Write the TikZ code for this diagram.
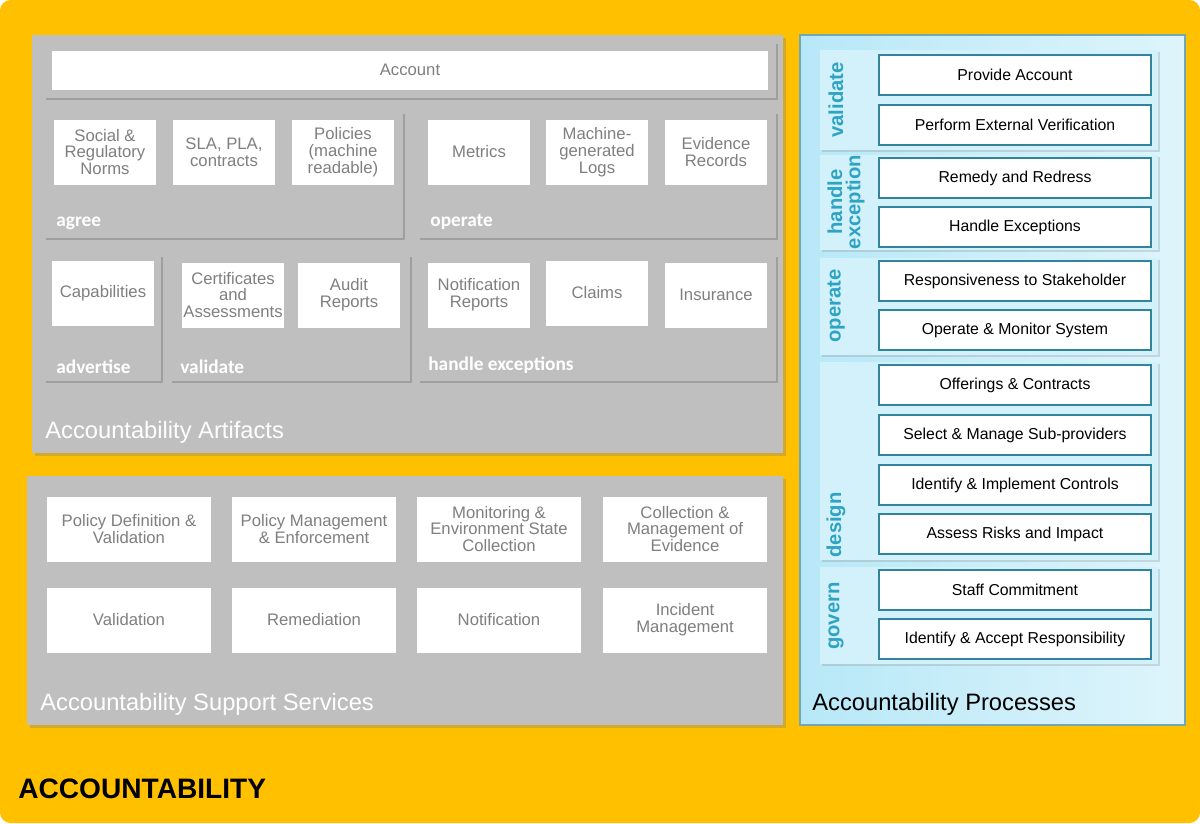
\documentclass[tikz,border=0pt]{standalone}
\usepackage{fontspec}
\setmainfont{Liberation Sans}
\newfontfamily\grpfont{Carlito}
\usetikzlibrary{positioning,shadows}
\definecolor{accorange}{HTML}{FFC000}
\definecolor{panelgrey}{HTML}{BFBFBF}
\definecolor{txtgrey}{HTML}{7F7F7F}
\definecolor{procblue}{HTML}{B7E8F7}
\definecolor{procband}{HTML}{D3F1FA}
\definecolor{procedge}{HTML}{31849B}
\definecolor{proctxt}{HTML}{2FA3C4}

\begin{document}
\begin{tikzpicture}[
			x=0.02cm, y=-0.02cm,
			panel/.style={fill=panelgrey, drop shadow={shadow xshift=1.5pt,shadow yshift=-1.5pt,opacity=0.35}},
			group/.style={fill=panelgrey, drop shadow={shadow xshift=1pt,shadow yshift=-1pt,opacity=0.5}},
			art/.style={fill=white, text=txtgrey, align=center, inner sep=1pt, font=\fontsize{9.5}{9.5}\selectfont},
			grplabel/.style={anchor=south west, text=white, font=\grpfont\bfseries\fontsize{11}{11}\selectfont, inner sep=0pt},
			paneltitle/.style={anchor=south west, inner sep=0pt, font=\fontsize{13.5}{14}\selectfont},
			proc/.style={draw=procedge, line width=1.4pt, fill=white, font=\fontsize{9}{9}\selectfont},
			band/.style={fill=procband, drop shadow={shadow xshift=1pt,shadow yshift=-1pt,opacity=0.25}},
			bandlabel/.style={rotate=90, text=proctxt, align=center, font=\bfseries\fontsize{11.5}{10.5}\selectfont}
			]

			% background
			\fill[accorange, rounded corners=6pt] (0,0) rectangle (1200,823);

			% artifacts panel
			\path[panel] (32,35) rectangle (783,453);
			\node[paneltitle, text=white] (arttitle) at (45,444) {Accountability Artifacts};
			\path[group] (44,42) rectangle (776,98);
			\node[art, minimum width=716*0.02cm, minimum height=39*0.02cm] (account) at (410,70) {Account};

			\path[group] (44,112) rectangle (403,238);
			\path[group] (418,112) rectangle (776,238);
			\path[group] (44,255) rectangle (161,381);
			\path[group] (170,255) rectangle (410,381);
			\path[group] (418,255) rectangle (776,381);
			\node[grplabel] (gagree) at (56,230) {agree};
			\node[grplabel] (goperate) at (430,230) {operate};
			\node[grplabel] (gadvertise) at (56,374) {advertise};
			\node[grplabel] (gvalidate) at (180,374) {validate};
			\node[grplabel] (ghandle) at (428,374) {handle exceptions};

			\foreach \n/\cx/\cy/\t in {
				social/105/152/{Social \&\\Regulatory\\Norms},
				sla/224/152/{SLA, PLA,\\contracts},
				policies/343/152/{Policies\\(machine\\readable)},
				metrics/479/152/{Metrics},
				logs/597/152/{Machine-\\generated\\Logs},
				evidence/716/152/{Evidence\\Records},
				capab/103/293/{Capabilities},
				certs/233/295/{Certificates\\and\\Assessments},
				audit/349/295/{Audit\\Reports},
				notif/479/295/{Notification\\Reports},
				claims/597/293/{Claims},
				insur/716/295/{Insurance}}
				\node[art, minimum width=102*0.02cm, minimum height=65*0.02cm] (\n) at (\cx,\cy) {\t};

			% support services panel
			\path[panel] (27,476) rectangle (783,725);
			\node[paneltitle, text=white] (suptitle) at (40,716) {Accountability Support Services};
			\foreach \n/\cx/\cy/\t in {
				poldef/129/529/{Policy Definition \&\\Validation},
				polman/314/529/{Policy Management\\\& Enforcement},
				monit/499/529/{Monitoring \&\\Environment State\\Collection},
				collect/685/529/{Collection \&\\Management of\\Evidence},
				valid/129/620/{Validation},
				remed/314/620/{Remediation},
				notify/499/620/{Notification},
				incid/685/620/{Incident\\Management}}
				\node[art, minimum width=164*0.02cm, minimum height=65*0.02cm] (\n) at (\cx,\cy) {\t};

			% processes panel
			\shade[left color=procblue, right color=procblue!45, draw=procedge!70, line width=0.8pt] (800,35) rectangle (1185,725);
			\node[paneltitle] (proctitle) at (812,716) {Accountability Processes};

			\path[band] (820,50) rectangle (1158,150);
			\path[band] (820,155) rectangle (1158,250);
			\path[band] (820,258) rectangle (1158,355);
			\path[band] (820,362) rectangle (1158,560);
			\path[band] (820,567) rectangle (1158,664);
			\node[bandlabel] (bvalidate) at (836,100) {validate};
			\node[bandlabel] (bhandle) at (846,202) {handle\\exception};
			\node[bandlabel] (boperate) at (836,306) {operate};
			\node[bandlabel] (bdesign) at (836,525) {design};
			\node[bandlabel] (bgovern) at (836,616) {govern};

			\foreach \n/\cy/\t in {
				provide/75/{Provide Account},
				perform/125/{Perform External Verification},
				remedy/178/{Remedy and Redress},
				handle/227/{Handle Exceptions},
				respons/281/{Responsiveness to Stakeholder},
				operatesys/330/{Operate \& Monitor System},
				offer/385/{Offerings \& Contracts},
				select/435/{Select \& Manage Sub-providers},
				ident/485/{Identify \& Implement Controls},
				assess/534/{Assess Risks and Impact},
				staff/590/{Staff Commitment},
				accept/639/{Identify \& Accept Responsibility}}
				\node[proc, minimum width=272*0.02cm, minimum height=40*0.02cm] (\n) at (1015,\cy) {\t};

			\node[anchor=west, inner sep=0pt, font=\bfseries\fontsize{16}{16}\selectfont] (acctitle) at (18,789) {ACCOUNTABILITY};

			\end{tikzpicture}
\end{document}
